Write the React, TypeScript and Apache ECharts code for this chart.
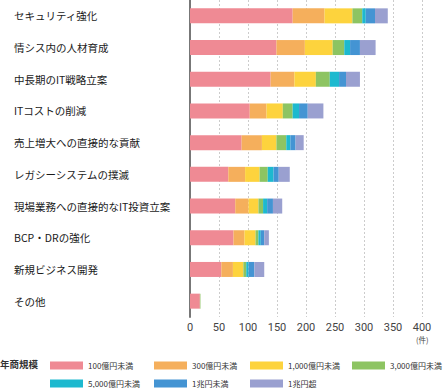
import React, { useEffect, useRef } from "react";
import * as echarts from "echarts";

const categories = [
  "セキュリティ強化",
  "情シス内の人材育成",
  "中長期のIT戦略立案",
  "ITコストの削減",
  "売上増大への直接的な貢献",
  "レガシーシステムの撲滅",
  "現場業務への直接的なIT投資立案",
  "BCP・DRの強化",
  "新規ビジネス開発",
  "その他",
];

const seriesNames = [
  "100億円未満",
  "300億円未満",
  "1,000億円未満",
  "3,000億円未満",
  "5,000億円未満",
  "1兆円未満",
  "1兆円超",
];

const under100 = [177, 149, 139, 103, 89, 66, 78, 75, 54, 17];
const under300 = [55, 49, 41, 29, 35, 29, 23, 19, 20, 0];
const under1000 = [48, 48, 37, 28, 25, 25, 17, 19, 18, 0];
const under3000 = [17, 20, 24, 17, 17, 14, 8, 5, 5, 1];
const under5000 = [6, 10, 16, 11, 7, 10, 7, 4, 4, 0];
const under1cho = [16, 17, 12, 15, 9, 9, 10, 6, 10, 0];
const over1cho = [22, 27, 24, 27, 14, 19, 16, 8, 17, 0];

const seriesValues = [under100, under300, under1000, under3000, under5000, under1cho, over1cho];
const colors = ["#EF8A94", "#F5AF5C", "#FDD33D", "#8DC462", "#1DB9CF", "#4494D3", "#9AA0D0"];

const xTicks = { min: 0, max: 400, interval: 50 };

const legendPos = [
  { left: 50, top: 361 },
  { left: 154, top: 361 },
  { left: 250, top: 361 },
  { left: 352, top: 361 },
  { left: 50, top: 379 },
  { left: 154, top: 379 },
  { left: 250, top: 379 },
];

const FONT = '"Noto Sans CJK JP", "Noto Sans", sans-serif';

export default function App() {
  const ref = useRef<HTMLDivElement>(null);
  useEffect(() => {
    document.body.style.margin = "0";
    if (!ref.current) return;
    const chart = echarts.init(ref.current, null, { renderer: "svg" });
    chart.setOption({
      animation: false,
      textStyle: { fontFamily: FONT },
      grid: { left: 190, top: -4, width: 232, height: 321, containLabel: false },
      xAxis: {
        type: "value",
        min: xTicks.min,
        max: xTicks.max,
        interval: xTicks.interval,
        axisLine: { show: false },
        axisTick: { show: false },
        axisLabel: { color: "#444", fontSize: 11, lineHeight: 11, margin: 5, fontFamily: "Roboto, sans-serif" },
        splitLine: { show: true, lineStyle: { color: "#cccccc", type: [2, 2], width: 1 } },
      },
      yAxis: {
        type: "category",
        data: categories,
        inverse: true,
        axisLine: { show: true, lineStyle: { color: "#777", width: 2 } },
        axisTick: { show: false },
        axisLabel: {
          align: "left",
          margin: 176,
          color: "#1a1a1a",
          fontSize: 10.5,
          fontFamily: FONT,
        },
      },
      legend: seriesNames.map((n, i) => ({
        data: [n],
        left: legendPos[i].left,
        top: legendPos[i].top,
        padding: 0,
        itemWidth: 33,
        itemHeight: 8,
        itemGap: 0,
        icon: "rect",
        selectedMode: false,
        textStyle: { fontSize: 8, color: "#333", lineHeight: 9, fontFamily: FONT, padding: [0, 0, 0, 0] },
      })),
      graphic: [
        {
          type: "text",
          left: 0,
          top: 359,
          style: { text: "年商規模", fontSize: 9.5, fontWeight: "bold", fill: "#333", fontFamily: FONT },
        },
        {
          type: "text",
          left: 416,
          top: 336,
          style: { text: "(件)", fontSize: 7.5, fill: "#444", fontFamily: FONT },
        },
      ],
      series: seriesNames.map((n, i) => ({
        name: n,
        type: "bar",
        stack: "total",
        barWidth: 15,
        data: seriesValues[i],
        itemStyle: { color: colors[i] },
        emphasis: { disabled: true },
      })),
    });
    return () => chart.dispose();
  }, []);
  return <div ref={ref} style={{ width: 443, height: 388 }} />;
}
